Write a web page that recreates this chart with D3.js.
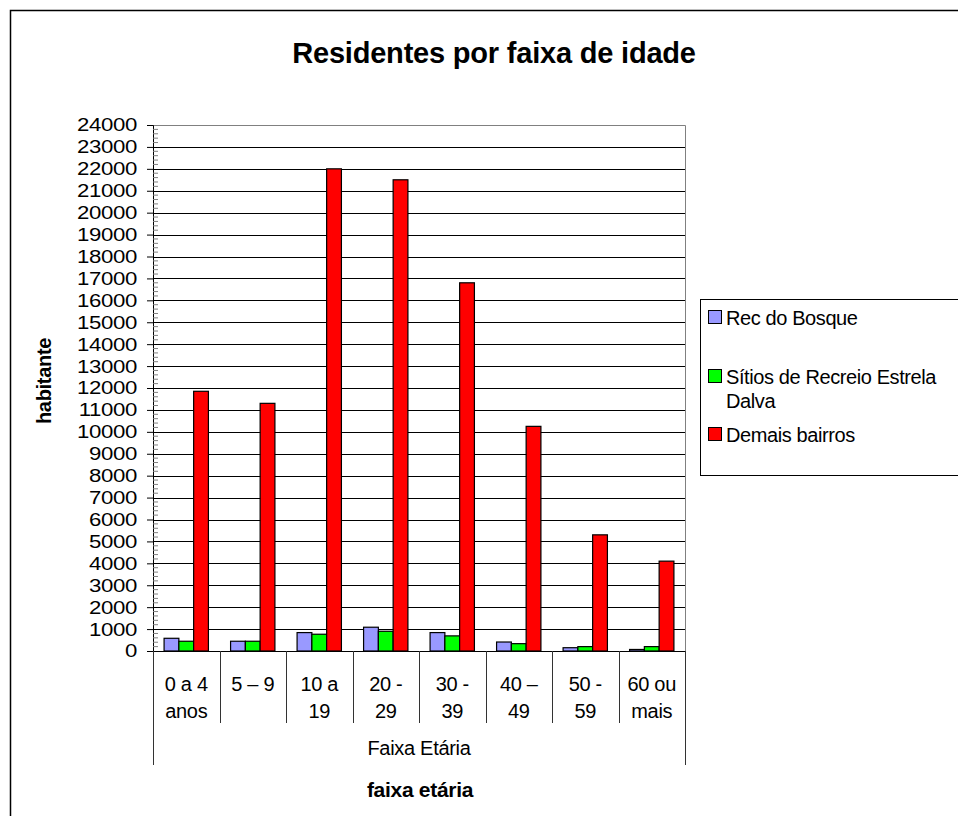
<!DOCTYPE html>
<html>
<head>
<meta charset="utf-8">
<script src="https://cdn.jsdelivr.net/npm/d3@7/dist/d3.min.js"></script>
<style>
  body { margin: 0; background: #fff; }
  text { font-family: "Liberation Sans", Arial, sans-serif; fill: #000; }
</style>
</head>
<body>
<div id="chart"></div>
<script>
// data
var categories = [["0 a 4", "anos"], ["5 \u2013 9"], ["10 a", "19"], ["20 -", "29"],
                  ["30 -", "39"], ["40 \u2013", "49"], ["50 -", "59"], ["60 ou", "mais"]];
var seriesNames = ["Rec  do Bosque", "S\u00edtios de Recreio Estrela Dalva", "Demais bairros"];
var recBosque = [580, 445, 840, 1085, 840, 410, 150, 70];
var sitios = [445, 445, 765, 900, 690, 335, 200, 200];
var demais = [11850, 11300, 22000, 21500, 16800, 10250, 5300, 4100];
var yTicks = d3.range(0, 24001, 1000);
var colors = ["#9999ff", "#00ff00", "#ff0000"];

var width = 958, height = 816;
var plot = {left: 153, right: 685, top: 125, bottom: 651};

var svg = d3.select("#chart")
  .append("svg")
    .attr("width", width)
    .attr("height", height);

// chart frame
svg.append("rect")
  .attr("x", 10.5).attr("y", 10.5)
  .attr("width", 975).attr("height", 830)
  .attr("fill", "none").attr("stroke", "#000").attr("stroke-width", 1.5);

// title
svg.append("text")
  .attr("x", 494).attr("y", 63)
  .attr("text-anchor", "middle")
  .style("font-size", "29px").style("font-weight", "bold").style("letter-spacing", "-0.2px")
  .text("Residentes por faixa de idade");

var x = d3.scaleBand()
  .domain(categories.map((d, i) => i))
  .range([plot.left, plot.right]);

var xInner = d3.scaleBand()
  .domain([0, 1, 2])
  .range([0, x.bandwidth()])
  .paddingOuter(0.75);

var y = d3.scaleLinear()
  .domain([0, 24000])
  .range([plot.bottom, plot.top]);

// gridlines
svg.append("g")
  .selectAll("line")
  .data(yTicks.slice(1, -1))
  .enter().append("line")
    .attr("x1", plot.left).attr("x2", plot.right)
    .attr("y1", d => Math.round(y(d)) + 0.5).attr("y2", d => Math.round(y(d)) + 0.5)
    .attr("stroke", "#000");

// plot area border (top/right)
svg.append("path")
  .attr("d", "M" + plot.left + "," + (plot.top + 0.5) + "H" + (plot.right + 0.5) + "V" + plot.bottom)
  .attr("fill", "none").attr("stroke", "#808080");

// bars
var table = categories.map((c, i) => [recBosque[i], sitios[i], demais[i]]);
var groups = svg.append("g")
  .selectAll("g")
  .data(table)
  .enter().append("g")
    .attr("transform", (d, i) => "translate(" + x(i) + ",0)");

groups.selectAll("rect")
  .data(d => d.map((v, k) => ({k: k, v: v})))
  .enter().append("rect")
    .attr("x", d => xInner(d.k))
    .attr("y", d => y(d.v))
    .attr("width", xInner.bandwidth())
    .attr("height", d => y(0) - y(d.v))
    .attr("fill", d => colors[d.k])
    .attr("stroke", "#000")
    .attr("stroke-width", 1.2);

// y axis
var stretch = 1.2;
var yAxis = svg.append("g")
  .attr("transform", "translate(" + plot.left + ",0)")
  .call(d3.axisLeft(y).tickValues(yTicks).tickSize(6).tickPadding(10).tickFormat(d3.format("d")));
yAxis.select(".domain").attr("stroke", "#000");
yAxis.selectAll(".tick line").attr("stroke", "#000");
yAxis.selectAll("text")
  .attr("x", -16 / stretch)
  .attr("transform", "scale(" + stretch + ",1)")
  .style("font-family", "Liberation Sans, Arial, sans-serif")
  .style("font-size", "18.5px").style("letter-spacing", "-0.3px");

// minor ticks inside
svg.append("g")
  .selectAll("line")
  .data(d3.range(0, 24001, 200).filter(d => d % 1000 != 0))
  .enter().append("line")
    .attr("x1", plot.left).attr("x2", plot.left + 5)
    .attr("y1", d => y(d)).attr("y2", d => y(d))
    .attr("stroke", "#808080");

// category axis
svg.append("line")
  .attr("x1", plot.left).attr("x2", plot.right)
  .attr("y1", plot.bottom + 0.5).attr("y2", plot.bottom + 0.5)
  .attr("stroke", "#000");

var seps = d3.range(categories.length + 1).map(i => i < categories.length ? x(i) : plot.right);
svg.append("g")
  .selectAll("line")
  .data(seps)
  .enter().append("line")
    .attr("x1", d => Math.round(d) + 0.5).attr("x2", d => Math.round(d) + 0.5)
    .attr("y1", plot.bottom)
    .attr("y2", (d, i) => (i == 0 || i == seps.length - 1) ? 765 : 723)
    .attr("stroke", "#333");

svg.append("g")
  .selectAll("text")
  .data(categories)
  .enter().append("text")
    .attr("text-anchor", "middle")
    .style("font-size", "20px").style("letter-spacing", "-0.3px")
    .attr("transform", (d, i) => "translate(" + (x(i) + x.bandwidth() / 2) + ",691)")
    .selectAll("tspan")
    .data(d => d)
    .enter().append("tspan")
      .attr("x", 0)
      .attr("dy", (d, i) => i == 0 ? 0 : 27)
      .text(d => d);

svg.append("text")
  .attr("x", (plot.left + plot.right) / 2).attr("y", 755)
  .attr("text-anchor", "middle")
  .style("font-size", "20px").style("letter-spacing", "-0.3px")
  .text("Faixa Et\u00e1ria");

// axis titles
svg.append("text")
  .attr("x", 420).attr("y", 797)
  .attr("text-anchor", "middle")
  .style("font-size", "21px").style("font-weight", "bold").style("letter-spacing", "-0.3px")
  .text("faixa et\u00e1ria");

svg.append("text")
  .attr("transform", "translate(51,381)rotate(-90)")
  .attr("text-anchor", "middle")
  .style("font-size", "20px").style("font-weight", "bold").style("letter-spacing", "-0.3px")
  .text("habitante");

// legend
var legend = svg.append("g");
legend.append("rect")
  .attr("x", 700.5).attr("y", 299.5)
  .attr("width", 280).attr("height", 176)
  .attr("fill", "#fff").attr("stroke", "#000");

var legendRows = [
  {lines: ["Rec do Bosque"], y: 325},
  {lines: ["S\u00edtios de Recreio Estrela", "Dalva"], y: 384},
  {lines: ["Demais bairros"], y: 442}
];
legendRows.forEach((r, k) => {
  legend.append("rect")
    .attr("x", 708.5).attr("y", r.y - 14.5)
    .attr("width", 13).attr("height", 13)
    .attr("fill", colors[k]).attr("stroke", "#000");
  var t = legend.append("text")
    .attr("x", 726).attr("y", r.y)
    .style("font-size", "20px").style("letter-spacing", "-0.4px");
  r.lines.forEach((l, j) => {
    t.append("tspan").attr("x", 726).attr("dy", j == 0 ? 0 : 24).text(l);
  });
});
</script>
</body>
</html>
